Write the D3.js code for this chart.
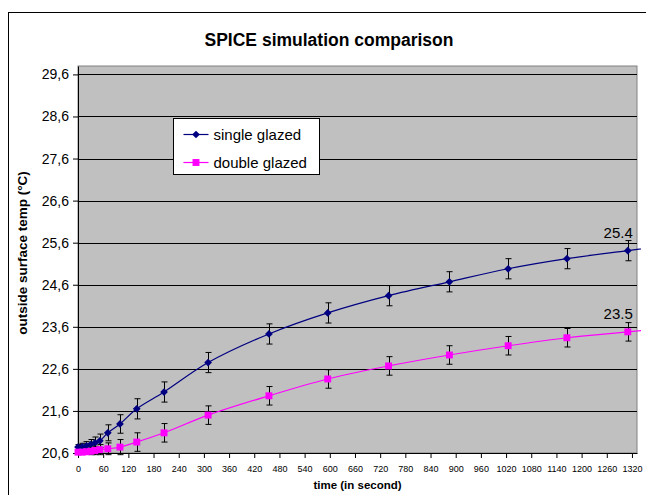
<!DOCTYPE html>
<html>
<head>
<meta charset="utf-8">
<script src="https://cdn.jsdelivr.net/npm/d3@7"></script>
<style>
  body { margin: 0; background: #fff; }
  svg { display: block; font-family: "Liberation Sans", Arial, sans-serif; }
</style>
</head>
<body>
<svg></svg>
<script>
const svgWidth = 646;
const svgHeight = 495;

// time in seconds
const times = [0, 10, 20, 30, 40, 52, 71, 100, 140, 205, 310, 455, 595, 740, 885, 1025, 1165, 1310];
const singleGlazed = [20.74, 20.75, 20.77, 20.80, 20.84, 20.89, 21.08, 21.29, 21.65, 22.05, 22.75, 23.43, 23.93, 24.34, 24.67, 24.98, 25.22, 25.41];
const singleErr = [0.06, 0.08, 0.1, 0.12, 0.14, 0.16, 0.19, 0.22, 0.24, 0.24, 0.24, 0.24, 0.24, 0.24, 0.24, 0.24, 0.24, 0.24];
const doubleGlazed = [20.62, 20.62, 20.63, 20.64, 20.66, 20.68, 20.70, 20.74, 20.86, 21.08, 21.50, 21.96, 22.36, 22.67, 22.93, 23.15, 23.34, 23.48];
const doubleErr = [0.04, 0.05, 0.06, 0.08, 0.1, 0.12, 0.14, 0.18, 0.22, 0.22, 0.22, 0.22, 0.22, 0.22, 0.22, 0.22, 0.22, 0.22];
// the smoothed lines run on a little past the axis end
const tailTime = 1460;
const singleTail = 25.6;
const doubleTail = 23.62;

const xTicks = d3.range(0, 1321, 60);
const yTicks = [20.6, 21.6, 22.6, 23.6, 24.6, 25.6, 26.6, 27.6, 28.6, 29.6];
const seriesNames = ["single glazed", "double glazed"];
const endLabels = ["25.4", "23.5"];

const margin = {left: 78, right: 9, top: 66, bottom: 42};
const plotW = svgWidth - margin.left - margin.right;
const plotH = svgHeight - margin.top - margin.bottom;

const svg = d3.select("svg").attr("width", svgWidth).attr("height", svgHeight);

// outer chart border
svg.append("rect")
  .attr("x", 8.5).attr("y", 12.5)
  .attr("width", svgWidth).attr("height", svgHeight)
  .attr("fill", "none").attr("stroke", "#000");

const g = svg.append("g").attr("transform", `translate(${margin.left},${margin.top})`);

const xScale = d3.scaleLinear().domain([0, 1332]).range([0, plotW]);
const yScale = d3.scaleLinear().domain([20.6, 29.8]).range([plotH, 0]);

// plot background
g.append("rect")
  .attr("width", plotW).attr("height", plotH)
  .attr("fill", "#c0c0c0")
  .attr("stroke", "#808080");

// gridlines
g.selectAll(".grid")
  .data(yTicks.slice(1))
  .enter().append("line")
  .attr("x1", 0).attr("x2", plotW)
  .attr("y1", d => Math.round(yScale(d)) + 0.5)
  .attr("y2", d => Math.round(yScale(d)) + 0.5)
  .attr("stroke", "#000");

// axes
let xAxis = d3.axisBottom(xScale).tickValues(xTicks).tickSize(5).tickSizeOuter(0)
  .tickFormat(d3.format("d"));
let yAxis = d3.axisLeft(yScale).tickValues(yTicks).tickSize(5).tickSizeOuter(0)
  .tickFormat(d => d3.format(".1f")(d).replace(".", ","));

const gx = g.append("g").attr("transform", `translate(0,${plotH})`).call(xAxis);
gx.select(".domain").attr("stroke", "#000");
gx.selectAll("text").attr("font-size", "9px").attr("dy", "1.2em").attr("fill", "#000")
  .attr("font-family", "Liberation Sans, Arial, sans-serif");

const gy = g.append("g").call(yAxis);
gy.select(".domain").attr("stroke", "#000");
gy.selectAll("text").attr("font-size", "14px").attr("x", -9).attr("fill", "#000")
  .attr("font-family", "Liberation Sans, Arial, sans-serif");

// clip so the lines stop just past the plot edge
svg.append("clipPath").attr("id", "clip")
  .append("rect").attr("x", 0).attr("y", -10).attr("width", plotW + 4).attr("height", plotH + 20);

const series = [
  {name: seriesNames[0], values: singleGlazed, err: singleErr, tail: singleTail, color: "#000080", rot: 45, size: 30, label: endLabels[0]},
  {name: seriesNames[1], values: doubleGlazed, err: doubleErr, tail: doubleTail, color: "#ff00ff", rot: 0, size: 48, label: endLabels[1]}
];

const line = d3.line()
  .x(d => xScale(d[0]))
  .y(d => yScale(d[1]))
  .curve(d3.curveCatmullRom.alpha(0.5));

series.forEach(s => {
  let pts = times.map((t, i) => [t, s.values[i], s.err[i]]);

  g.append("path")
    .datum(pts.concat([[tailTime, s.tail]]))
    .attr("clip-path", "url(#clip)")
    .attr("d", line)
    .attr("fill", "none")
    .attr("stroke", s.color)
    .attr("stroke-width", 1.2);

  // error bars
  let eb = g.append("g").attr("stroke", "#000").attr("stroke-width", 1);
  pts.forEach(p => {
    let x = Math.round(xScale(p[0])) + 0.5;
    let y1 = yScale(p[1] - p[2]), y2 = yScale(p[1] + p[2]);
    eb.append("line").attr("x1", x).attr("x2", x).attr("y1", y1).attr("y2", y2);
    eb.append("line").attr("x1", x - 3).attr("x2", x + 3).attr("y1", y1).attr("y2", y1);
    eb.append("line").attr("x1", x - 3).attr("x2", x + 3).attr("y1", y2).attr("y2", y2);
  });

  g.selectAll(null)
    .data(pts)
    .enter().append("path")
    .attr("d", d3.symbol().type(d3.symbolSquare).size(s.size))
    .attr("transform", d => `translate(${xScale(d[0])},${yScale(d[1])}) rotate(${s.rot})`)
    .attr("fill", s.color);

  let last = pts[pts.length - 1];
  g.append("text")
    .text(s.label)
    .attr("x", xScale(last[0]) + 5)
    .attr("y", yScale(last[1]) - 13)
    .attr("text-anchor", "end")
    .attr("font-size", "15px");
});

// title
svg.append("text")
  .text("SPICE simulation comparison")
  .attr("x", 329).attr("y", 46)
  .attr("text-anchor", "middle")
  .attr("font-size", "17.5px")
  .attr("font-weight", "bold");

// axis titles
svg.append("text")
  .text("time (in second)")
  .attr("x", margin.left + plotW / 2).attr("y", 489)
  .attr("text-anchor", "middle")
  .attr("font-size", "11.5px")
  .attr("font-weight", "bold");

svg.append("text")
  .text("outside surface temp (°C)")
  .attr("transform", "rotate(-90)")
  .attr("x", -253).attr("y", 27)
  .attr("text-anchor", "middle")
  .attr("font-size", "13.5px")
  .attr("font-weight", "bold");

// legend
const legend = svg.append("g").attr("transform", "translate(173.5,118.5)");
legend.append("rect")
  .attr("width", 146).attr("height", 56)
  .attr("fill", "#fff").attr("stroke", "#000");
series.forEach((s, i) => {
  let ly = 16 + i * 28;
  legend.append("line")
    .attr("x1", 10).attr("x2", 35).attr("y1", ly).attr("y2", ly)
    .attr("stroke", s.color).attr("stroke-width", 1.2);
  legend.append("path")
    .attr("d", d3.symbol().type(d3.symbolSquare).size(s.size))
    .attr("transform", `translate(22.5,${ly}) rotate(${s.rot})`)
    .attr("fill", s.color);
  legend.append("text")
    .text(s.name)
    .attr("x", 40).attr("y", ly + 5)
    .attr("font-size", "15px");
});
</script>
</body>
</html>
